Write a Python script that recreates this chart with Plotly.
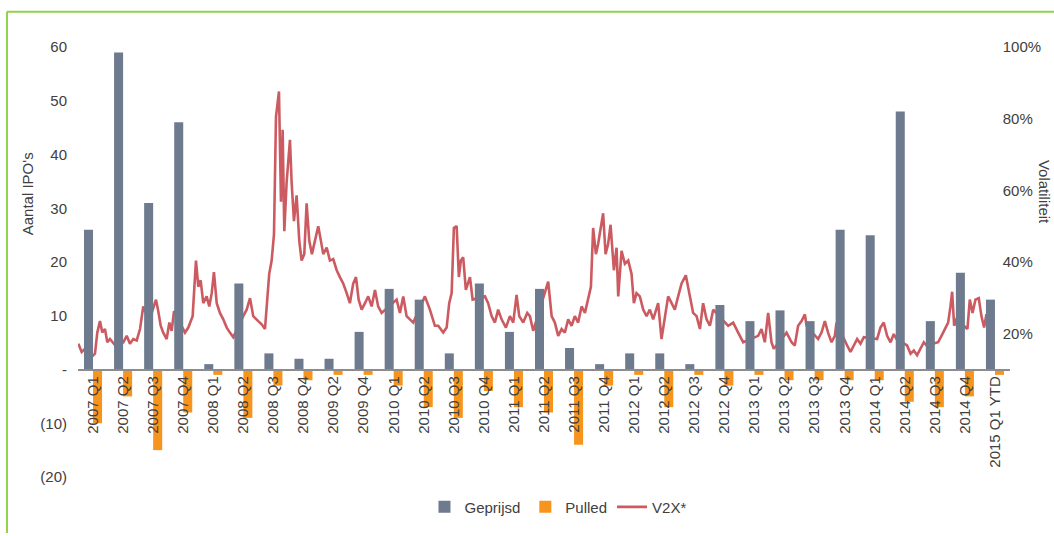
import plotly.graph_objects as go

categories = ["2007 Q1", "2007 Q2", "2007 Q3", "2007 Q4", "2008 Q1", "2008 Q2", "2008 Q3", "2008 Q4",
              "2009 Q2", "2009 Q4", "2010 Q1", "2010 Q2", "2010 Q3", "2010 Q4", "2011 Q1", "2011 Q2",
              "2011 Q3", "2011 Q4", "2012 Q1", "2012 Q2", "2012 Q3", "2012 Q4", "2013 Q1", "2013 Q2",
              "2013 Q3", "2013 Q4", "2014 Q1", "2014 Q2", "2014 Q3", "2014 Q4", "2015 Q1 YTD"]

geprijsd = [26, 59, 31, 46, 1, 16, 3, 2, 2, 7, 15, 13, 3, 16, 7, 15,
            4, 1, 3, 3, 1, 12, 9, 11, 9, 26, 25, 48, 9, 18, 13]

pulled = [-10, -5, -15, -8, -1, -9, -3, -2, -1, -1, -3, -7, -9, -4, -7, -8,
          -14, -3, -1, -7, -1, -3, -1, -2, -2, -2, -2, -6, -7, -5, -1]

left_tickvals = [-20, -10, 0, 10, 20, 30, 40, 50, 60]
left_ticktext = ["(20)", "(10)", "-", "10", "20", "30", "40", "50", "60"]
right_tickvals = [20, 40, 60, 80, 100]
right_ticktext = ["20%", "40%", "60%", "80%", "100%"]

# V2X volatility index (in %), time as decimal year
v2x_year = [
    2007.003, 2007.033, 2007.078, 2007.123, 2007.153, 2007.174, 2007.198, 2007.219, 2007.243, 2007.264,
    2007.288, 2007.313, 2007.349, 2007.408, 2007.439, 2007.468, 2007.498, 2007.529, 2007.559, 2007.588,
    2007.624, 2007.664, 2007.703, 2007.723, 2007.745, 2007.768, 2007.799, 2007.823, 2007.844, 2007.865,
    2007.964, 2007.994, 2008.033, 2008.063, 2008.084, 2008.105, 2008.129, 2008.159, 2008.183, 2008.205,
    2008.225, 2008.250, 2008.279, 2008.309, 2008.340, 2008.369, 2008.399, 2008.489, 2008.520, 2008.550,
    2008.579, 2008.624, 2008.655, 2008.685, 2008.700, 2008.723, 2008.745, 2008.766, 2008.784, 2008.811,
    2008.829, 2008.844, 2008.859, 2008.880, 2008.910, 2008.925, 2008.946, 2008.970, 2008.994, 2009.015,
    2009.039, 2009.060, 2009.084, 2009.108, 2009.135, 2009.165, 2009.189, 2009.210, 2009.241, 2009.270,
    2009.300, 2009.331, 2009.360, 2009.390, 2009.421, 2009.450, 2009.480, 2009.505, 2009.529, 2009.556,
    2009.586, 2009.615, 2009.646, 2009.676, 2009.705, 2009.736, 2009.871, 2009.901, 2009.931, 2009.961,
    2009.991, 2010.021, 2010.126, 2010.171, 2010.216, 2010.246, 2010.291, 2010.322, 2010.345, 2010.367,
    2010.387, 2010.412, 2010.432, 2010.450, 2010.471, 2010.495, 2010.532, 2010.556, 2010.667, 2010.696,
    2010.727, 2010.757, 2010.786, 2010.817, 2010.856, 2010.892, 2010.922, 2010.952, 2010.976, 2011.012,
    2011.048, 2011.072, 2011.102, 2011.237, 2011.268, 2011.297, 2011.327, 2011.358, 2011.387, 2011.417,
    2011.448, 2011.477, 2011.507, 2011.538, 2011.568, 2011.598, 2011.622, 2011.642, 2011.667, 2011.687,
    2011.709, 2011.732, 2011.754, 2011.777, 2011.799, 2011.829, 2011.853, 2011.868, 2011.898, 2011.928,
    2011.958, 2011.988, 2012.009, 2012.033, 2012.063, 2012.093, 2012.123, 2012.153, 2012.183, 2012.228,
    2012.258, 2012.288, 2012.318, 2012.349, 2012.378, 2012.408, 2012.439, 2012.477, 2012.507, 2012.543,
    2012.574, 2012.604, 2012.633, 2012.664, 2012.694, 2012.724, 2012.859, 2012.904, 2012.949, 2012.994,
    2013.129, 2013.159, 2013.189, 2013.219, 2013.249, 2013.270, 2013.385, 2013.430, 2013.459, 2013.489,
    2013.520, 2013.550, 2013.565, 2013.669, 2013.700, 2013.730, 2013.759, 2013.790, 2013.820, 2013.835,
    2013.931, 2013.961, 2013.991, 2014.021, 2014.051, 2014.081, 2014.201, 2014.231, 2014.261, 2014.291,
    2014.322, 2014.351, 2014.376, 2014.471, 2014.502, 2014.532, 2014.561, 2014.592, 2014.622, 2014.646,
    2014.751, 2014.781, 2014.811, 2014.841, 2014.862, 2014.877, 2014.895, 2014.916, 2015.015, 2015.036,
    2015.061, 2015.087, 2015.117, 2015.141, 2015.165, 2015.186, 2015.201,
]
v2x_pct = [
    17.2, 14.9, 16.2, 13.5, 14.4, 20.3, 23.5, 20.3, 21.3, 17.6,
    18.5, 17.6, 16.2, 17.6, 19.4, 17.2, 18.5, 18.1, 21.3, 27.6,
    24.9, 25.8, 29.5, 26.3, 22.2, 20.3, 18.5, 23.1, 20.8, 26.3,
    20.3, 21.7, 24.9, 40.4, 33.1, 34.9, 28.5, 30.4, 27.6, 31.3,
    37.2, 28.5, 25.8, 24.0, 21.7, 20.3, 19.0, 24.9, 26.7, 29.9,
    24.9, 23.5, 22.6, 21.3, 26.7, 36.7, 40.4, 47.7, 80.5, 87.6,
    56.8, 76.9, 48.6, 62.3, 74.1, 62.3, 51.4, 58.6, 45.9, 40.4,
    42.2, 56.4, 45.9, 42.2, 45.9, 50.0, 45.9, 42.2, 44.0, 40.4,
    40.8, 37.7, 35.8, 34.0, 31.3, 28.5, 34.0, 35.8, 29.5, 26.7,
    28.5, 30.4, 27.6, 32.2, 27.6, 25.8, 29.5, 25.8, 30.4, 24.9,
    24.0, 23.1, 30.4, 26.7, 22.2, 22.2, 20.3, 21.7, 28.5, 31.3,
    49.5, 50.0, 35.8, 40.4, 41.3, 32.2, 35.8, 29.5, 30.4, 28.5,
    24.9, 23.1, 26.7, 24.0, 21.7, 24.9, 23.1, 30.8, 24.9, 23.1,
    25.8, 24.9, 20.8, 34.5, 24.9, 23.1, 19.4, 21.3, 20.3, 24.0,
    22.2, 24.9, 23.1, 27.6, 25.8, 29.5, 33.1, 49.5, 42.2, 45.0,
    49.5, 53.6, 42.2, 45.0, 50.4, 37.7, 44.0, 30.4, 43.1, 39.5,
    40.4, 36.7, 28.5, 31.3, 30.4, 26.7, 24.9, 26.7, 24.0, 28.5,
    18.5, 24.0, 30.4, 28.5, 26.7, 30.4, 34.0, 36.3, 31.3, 25.8,
    24.9, 21.3, 28.5, 24.0, 22.2, 26.7, 22.2, 23.1, 20.3, 17.6,
    19.4, 21.3, 17.6, 25.8, 17.6, 15.8, 20.3, 17.6, 16.7, 22.2,
    23.5, 25.4, 22.2, 18.5, 20.3, 23.5, 20.3, 17.6, 19.4, 23.1,
    16.7, 14.9, 16.7, 18.5, 17.2, 19.0, 18.5, 21.7, 23.1, 19.4,
    17.6, 19.9, 18.5, 16.7, 14.4, 15.3, 14.0, 15.8, 17.6, 16.7,
    17.6, 19.4, 21.3, 23.1, 27.6, 31.7, 22.2, 24.0, 21.3, 29.5,
    25.8, 29.5, 29.9, 24.9, 21.7, 25.4, 23.5,
]

FONT = "Liberation Sans, Arial, sans-serif"
TXT = "#404040"

fig = go.Figure()

# Line first (base subplot) so the bars are drawn over it
fig.add_trace(go.Scatter(
    x=v2x_year, y=v2x_pct, mode="lines", name="V2X*",
    line=dict(color="rgba(198,72,80,0.9)", width=2.6),
    xaxis="x", yaxis="y", legendrank=3,
))
fig.add_trace(go.Bar(
    x=categories, y=geprijsd, name="Geprijsd",
    marker=dict(color="#6e7b8e", line=dict(width=0)),
    xaxis="x2", yaxis="y2", legendrank=1,
))
fig.add_trace(go.Bar(
    x=categories, y=pulled, name="Pulled",
    marker=dict(color="#f7941d", line=dict(width=0)),
    xaxis="x2", yaxis="y2", legendrank=2,
))

fig.update_layout(
    width=1054, height=536,
    margin=dict(l=78, r=44, t=47, b=49),
    paper_bgcolor="white",
    plot_bgcolor="rgba(0,0,0,0)",
    font=dict(family=FONT, size=15, color=TXT),
    barmode="group", bargap=0.4, bargroupgap=0,
    showlegend=True,
    legend=dict(orientation="h", x=0.515, xanchor="center", y=-0.07, yanchor="middle",
                font=dict(size=15, color=TXT), itemwidth=30, tracegroupgap=0,
                bgcolor="rgba(0,0,0,0)"),
    xaxis=dict(domain=[0, 0.989], range=[2007.0, 2015.306], visible=False,
               anchor="y", fixedrange=True),
    yaxis=dict(domain=[0, 1], anchor="x", side="right", range=[-20, 100],
               tickvals=right_tickvals, ticktext=right_ticktext, showgrid=False,
               zeroline=False, showline=False, ticks="",
               tickfont=dict(size=15, color=TXT), ticklabelstandoff=2),
    xaxis2=dict(domain=[0, 1], anchor="free", position=0.25, type="category",
                tickangle=-90, showline=True, linecolor="#8c8c8c", linewidth=1.5,
                showgrid=False, zeroline=False, ticks="",
                tickfont=dict(size=15, color=TXT)),
    yaxis2=dict(domain=[0, 1], anchor="x2", side="left", range=[-20, 60],
                tickvals=left_tickvals, ticktext=left_ticktext,
                showgrid=False, zeroline=False, showline=False, ticks="",
                tickfont=dict(size=15, color=TXT), ticklabelstandoff=10),
    annotations=[
        dict(text="Aantal IPO's", x=-0.0545, y=0.658, xref="paper", yref="paper",
             textangle=-90, showarrow=False, font=dict(size=15, color=TXT),
             xanchor="center", yanchor="middle"),
        dict(text="Volatiliteit", x=1.0365, y=0.663, xref="paper", yref="paper",
             textangle=90, showarrow=False, font=dict(size=15, color=TXT),
             xanchor="center", yanchor="middle", borderpad=0),
    ],
    shapes=[
        dict(type="line", xref="paper", yref="paper", x0=-0.0762, x1=-0.0762,
             y0=1.0818, y1=-0.13, line=dict(color="#92d050", width=2)),
        dict(type="line", xref="paper", yref="paper", x0=-0.0762, x1=1.06,
             y0=1.0818, y1=1.0818, line=dict(color="#92d050", width=2)),
    ],
)

fig.write_html("out.html", config={"displayModeBar": False},
               post_script="document.body.style.margin='0';document.body.style.overflow='hidden';")
